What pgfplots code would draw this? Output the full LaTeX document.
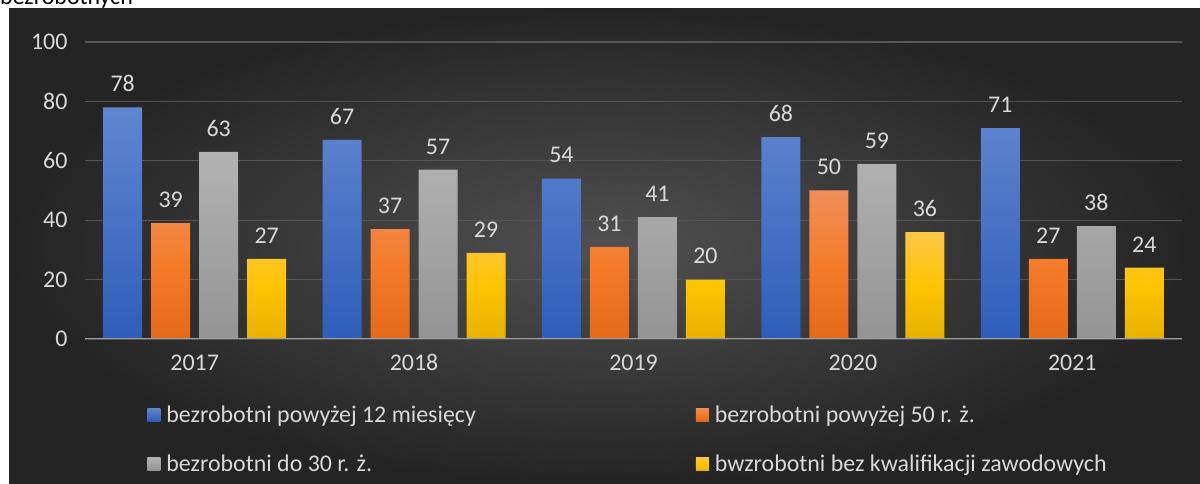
\documentclass[border=0pt]{standalone}
\usepackage{pgfplots}
\pgfplotsset{compat=1.18}
\usepackage{fontspec}
\setmainfont{Carlito}

\definecolor{bgin}{RGB}{80,80,80}
\definecolor{bgout}{RGB}{36,36,36}
\definecolor{lbl}{RGB}{217,217,217}
\definecolor{gridc}{RGB}{85,85,85}
\definecolor{zeroc}{RGB}{160,160,160}
\definecolor{blueT}{RGB}{96,134,208}
\definecolor{blueB}{RGB}{46,94,186}
\definecolor{oraT}{RGB}{240,142,90}
\definecolor{oraM}{RGB}{244,124,40}
\definecolor{oraB}{RGB}{226,106,24}
\definecolor{grayT}{RGB}{178,178,178}
\definecolor{grayB}{RGB}{148,148,148}
\definecolor{yelT}{RGB}{255,198,70}
\definecolor{yelM}{RGB}{255,196,0}
\definecolor{yelB}{RGB}{230,178,0}

\newcommand{\lblfont}{\fontsize{24}{28}\selectfont}

\begin{document}
\begin{tikzpicture}[x=1bp,y=1bp]
\useasboundingbox (0,0) rectangle (1200,484);
\fill[white] (0,0) rectangle (1200,484);
\shade[inner color=bgin, outer color=bgout] (9,0) rectangle (1200,475);
\begin{scope}
  \clip (0,475) rectangle (1200,484);
  \node[anchor=base west, inner sep=0, font=\lblfont, text=black] at (0,479) {bezrobotnych};
\end{scope}

\begin{axis}[
  scale only axis, width=1097bp, height=297bp,
  at={(85bp,145bp)}, anchor=south west,
  xmin=-0.5, xmax=4.5, ymin=0, ymax=100,
  ybar=9bp, bar width=39bp,
  xtick={0,1,2,3,4}, xticklabels={2017,2018,2019,2020,2021},
  ytick={0,20,40,60,80,100},
  axis line style={draw=none}, major tick length=0pt,
  ymajorgrids, grid style={draw=gridc, line width=1.2bp},
  tick label style={font=\lblfont, text=lbl},
  xticklabel style={yshift=-12bp},
  yticklabel style={xshift=-14bp},
  /pgf/number format/assume math mode=true,
  nodes near coords,
  every node near coord/.append style={font=\lblfont, text=lbl, anchor=south, yshift=12bp},
  legend columns=2, legend cell align=left,
  legend style={draw=none, fill=none, text=lbl, font=\lblfont,
    at={(0.054,-0.21)}, anchor=north west, row sep=27bp,
    /tikz/every odd column/.append style={column sep=4bp},
    /tikz/every even column/.append style={column sep=218bp}},
  legend image code/.code={\path[#1] (0bp,-6.5bp) rectangle (13bp,6.5bp);},
]
\addplot[draw=none, top color=blueT, bottom color=blueB]
  coordinates {(0,78) (1,67) (2,54) (3,68) (4,71)};
\addlegendentry{bezrobotni powyżej 12 miesięcy}
\addplot[draw=none, top color=oraT, bottom color=oraB, middle color=oraM]
  coordinates {(0,39) (1,37) (2,31) (3,50) (4,27)};
\addlegendentry{bezrobotni powyżej 50 r. ż.}
\addplot[draw=none, top color=grayT, bottom color=grayB]
  coordinates {(0,63) (1,57) (2,41) (3,59) (4,38)};
\addlegendentry{bezrobotni do 30 r. ż.}
\addplot[draw=none, top color=yelT, bottom color=yelB, middle color=yelM]
  coordinates {(0,27) (1,29) (2,20) (3,36) (4,24)};
\addlegendentry{bwzrobotni bez kwalifikacji zawodowych}
\draw[zeroc, line width=2.4bp] (axis cs:-0.5,0) -- (axis cs:4.5,0);
\end{axis}
\end{tikzpicture}
\end{document}
